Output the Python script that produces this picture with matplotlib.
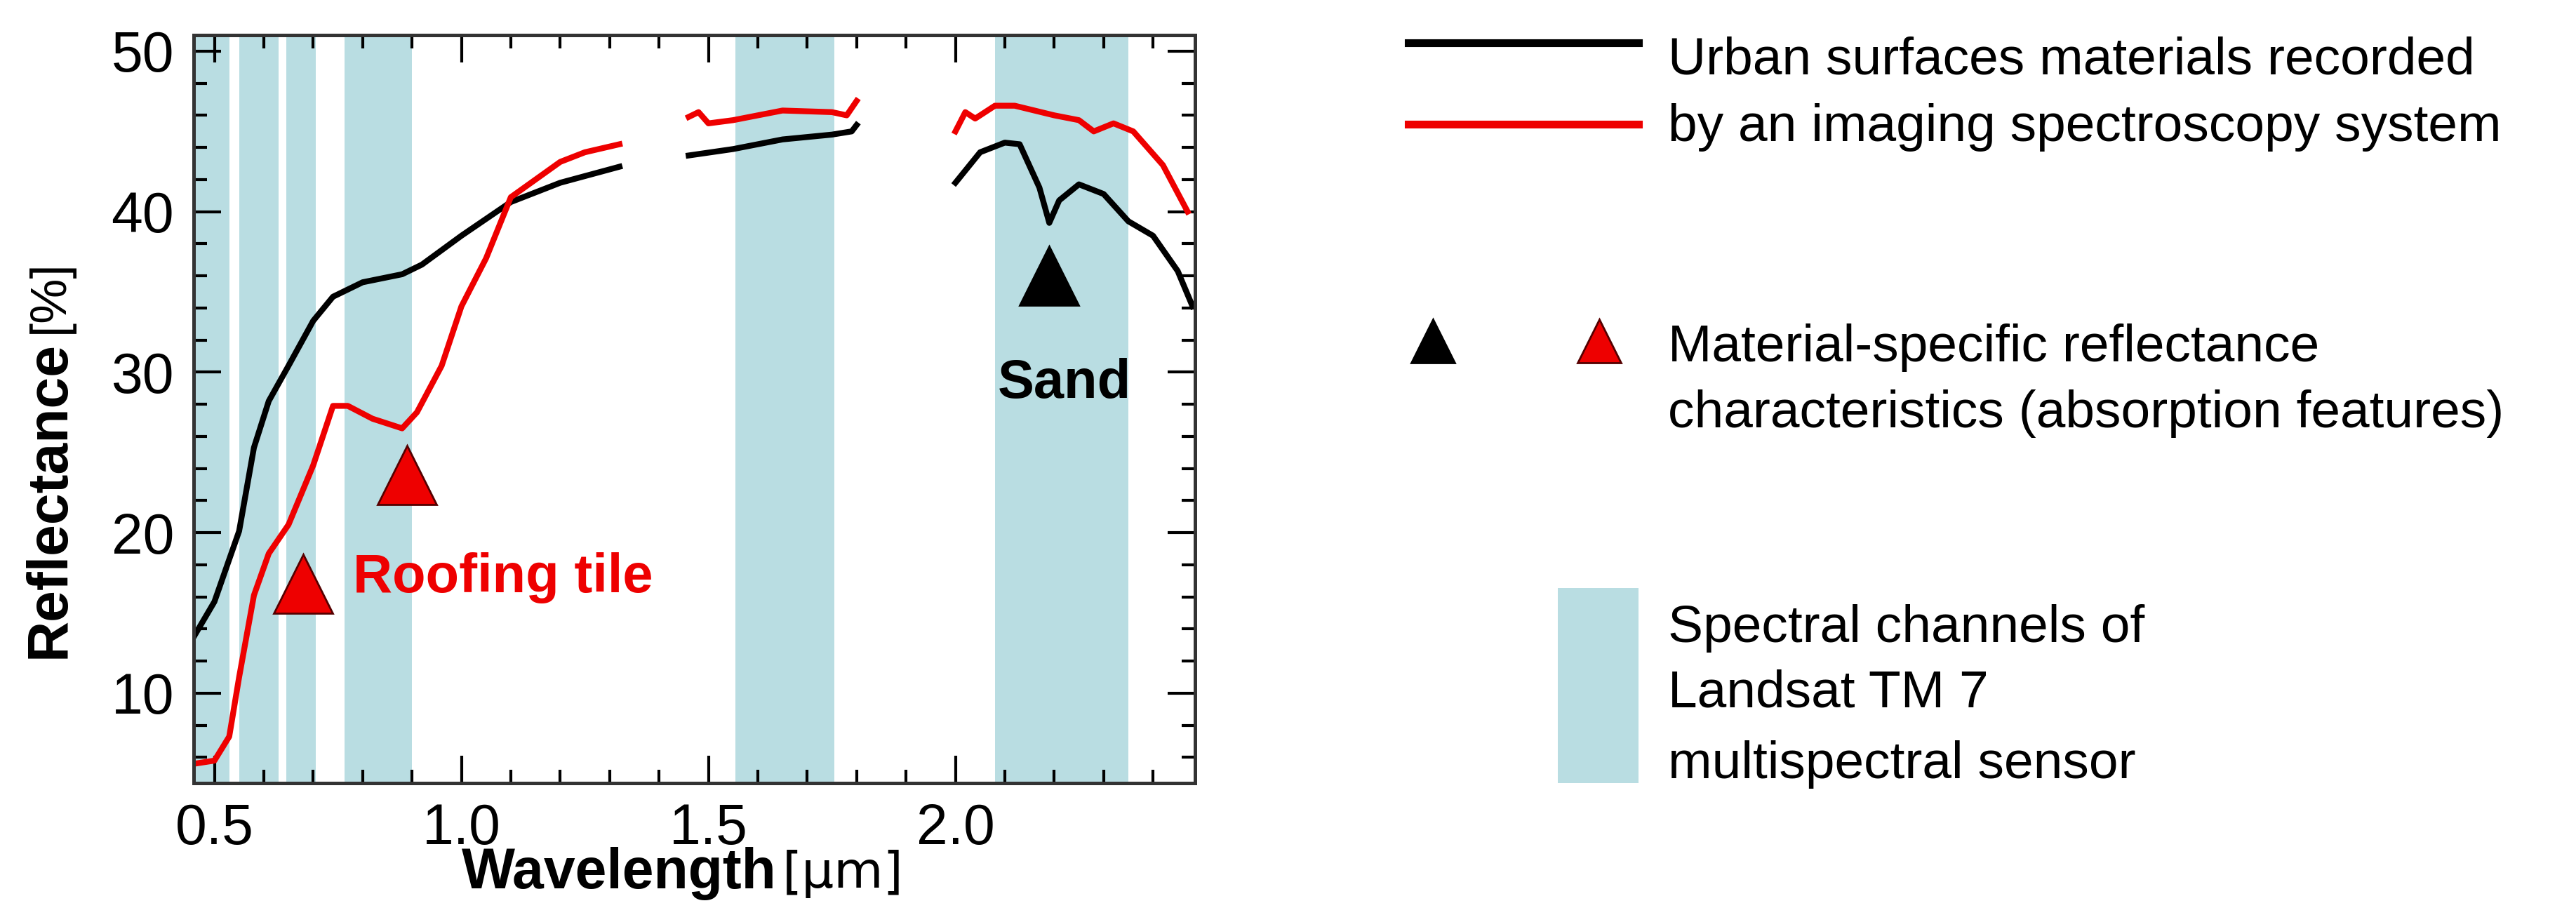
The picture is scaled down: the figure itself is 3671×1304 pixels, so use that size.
import matplotlib
matplotlib.use("Agg")
import matplotlib.pyplot as plt
from matplotlib.ticker import MultipleLocator
from matplotlib.patches import Rectangle
from matplotlib.lines import Line2D

FONT = ['Liberation Sans Narrow', 'Liberation Sans', 'DejaVu Sans']
plt.rcParams['font.family'] = FONT

bands = [(0.45, 0.53), (0.55, 0.63), (0.645, 0.705), (0.763, 0.90), (1.555, 1.755), (2.08, 2.35)]

sand_x = [[0.458, 0.50, 0.55, 0.58, 0.61, 0.65, 0.70, 0.74, 0.80, 0.88, 0.92, 1.0, 1.1, 1.2, 1.32],
          [1.46, 1.55, 1.65, 1.75, 1.79, 1.80],
          [2.0, 2.05, 2.1, 2.13, 2.17, 2.19, 2.21, 2.25, 2.3, 2.35, 2.4, 2.45, 2.48]]
sand_y = [[13.5, 15.7, 20.1, 25.3, 28.2, 30.4, 33.2, 34.7, 35.6, 36.1, 36.7, 38.5, 40.6, 41.8, 42.8],
          [43.5, 43.9, 44.5, 44.8, 45.0, 45.4],
          [41.8, 43.7, 44.3, 44.2, 41.5, 39.3, 40.7, 41.7, 41.1, 39.4, 38.5, 36.3, 34.1]]
tile_x = [[0.458, 0.5, 0.53, 0.55, 0.58, 0.61, 0.65, 0.70, 0.74, 0.77, 0.82, 0.88, 0.91, 0.96, 1.0, 1.05, 1.1, 1.15, 1.2, 1.25, 1.32],
          [1.46, 1.48, 1.5, 1.55, 1.65, 1.75, 1.78, 1.80],
          [2.0, 2.02, 2.04, 2.08, 2.12, 2.2, 2.25, 2.28, 2.32, 2.36, 2.42, 2.47]]
tile_y = [[5.6, 5.8, 7.3, 11.0, 16.1, 18.7, 20.5, 24.2, 27.9, 27.9, 27.1, 26.5, 27.5, 30.4, 34.1, 37.1, 40.9, 42.0, 43.1, 43.7, 44.2],
          [45.9, 46.2, 45.5, 45.7, 46.3, 46.2, 46.0, 46.9],
          [45.0, 46.2, 45.8, 46.6, 46.6, 46.0, 45.7, 45.0, 45.5, 45.0, 42.9, 40.0]]
red_tri = [(0.68, 16.8), (0.89, 23.6)]
black_tri = [(2.19, 36.0)]

W, H, DPI = 3671, 1304, 200
fig = plt.figure(figsize=(W / DPI, H / DPI), dpi=DPI)
ax = fig.add_axes([276 / W, 1 - 1116 / H, (1703 - 276) / W, (1116 - 50) / H])
band_col = '#b9dde2'
for a, b in bands:
    ax.axvspan(a, b, color=band_col, lw=0, zorder=0)
for xs, ys in zip(sand_x, sand_y):
    ax.plot(xs, ys, color='black', lw=3, zorder=2)
for xs, ys in zip(tile_x, tile_y):
    ax.plot(xs, ys, color='#ee0000', lw=3, zorder=2)
for x, y in red_tri:
    ax.plot(x, y, marker='^', ms=30, color='#ee0000', mec='#550000', mew=1, zorder=3)
for x, y in black_tri:
    ax.plot(x, y, marker='^', ms=30, color='black', zorder=3)
ax.text(0.78, 17.2, 'Roofing tile', color='#ee0000', fontsize=28, fontweight='bold', va='center', family=FONT)
ax.text(2.22, 29.3, 'Sand', color='black', fontsize=28, fontweight='bold', va='center', ha='center', family=FONT)

ax.set_xlim(0.458, 2.485)
ax.set_ylim(4.4, 51)
ax.set_xticks([0.5, 1.0, 1.5, 2.0])
ax.set_xticklabels(['0.5', '1.0', '1.5', '2.0'])
ax.set_yticks([10, 20, 30, 40, 50])
ax.xaxis.set_minor_locator(MultipleLocator(0.1))
ax.yaxis.set_minor_locator(MultipleLocator(2))
ax.tick_params(which='both', direction='in', top=True, right=True, labelsize=29, pad=10, width=1.5)
ax.tick_params(which='major', length=14)
ax.tick_params(which='minor', length=7)
for s in ax.spines.values():
    s.set_linewidth(1.8)
    s.set_color('#333333')

def px(x, y):
    return x / W, 1 - y / H

fig.text(*px(1107, 1245), 'Wavelength', fontsize=29, fontweight='bold', ha='right', va='center')
fig.text(*px(1115, 1245), '[μm]', fontsize=26, ha='left', va='center', family=['DejaVu Sans'])
fig.text(*px(71, 938), 'Reflectance', fontsize=29, fontweight='bold', rotation=90, ha='center', va='bottom')
fig.text(*px(71, 475), '[%]', fontsize=26, rotation=90, ha='center', va='bottom')

# legend
fig.add_artist(Line2D([2007 / W, 2335 / W], [1 - 61 / H, 1 - 61 / H], color='black', lw=4))
fig.add_artist(Line2D([2007 / W, 2335 / W], [1 - 177 / H, 1 - 177 / H], color='#ee0000', lw=4))
lt = dict(fontsize=27, ha='left', va='center')
fig.text(*px(2377, 86), 'Urban surfaces materials recorded', **lt)
fig.text(*px(2377, 181), 'by an imaging spectroscopy system', **lt)
fig.add_artist(Line2D([2042 / W], [1 - 486 / H], marker='^', ms=22, color='black', lw=0))
fig.add_artist(Line2D([2279 / W], [1 - 486 / H], marker='^', ms=22, color='#ee0000', mec='#550000', lw=0))
fig.text(*px(2377, 496), 'Material-specific reflectance', **lt)
fig.text(*px(2377, 589), 'characteristics (absorption features)', **lt)
fig.add_artist(Rectangle((2220 / W, 1 - 1116 / H), 115 / W, 278 / H, color=band_col, lw=0, transform=fig.transFigure))
fig.text(*px(2377, 896), 'Spectral channels of', **lt)
fig.text(*px(2377, 988), 'Landsat TM 7', **lt)
fig.text(*px(2377, 1089), 'multispectral sensor', **lt)

fig.savefig('out.png', dpi=DPI)
